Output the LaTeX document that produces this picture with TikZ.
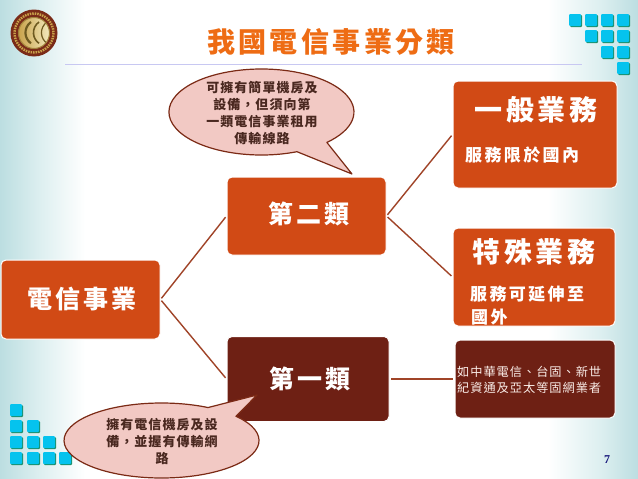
\documentclass[tikz,border=0pt]{standalone}
\usepackage{fontspec}
\setmainfont{Liberation Serif}
\newfontfamily\cjkT[LetterSpace=12]{Noto Sans CJK TC}
\newfontfamily\cjkL[LetterSpace=12]{Noto Sans CJK TC}
\newfontfamily\cjkM[LetterSpace=14]{Noto Sans CJK TC}
\newfontfamily\cjkS[LetterSpace=8]{Noto Sans CJK TC}
\definecolor{teal}{HTML}{BCDEE1}
\definecolor{tealmid}{HTML}{DDEFF0}
\definecolor{boxorange}{HTML}{D14A15}
\definecolor{boxdark}{HTML}{6E2014}
\definecolor{titleorange}{HTML}{EE6C14}
\definecolor{rulelilac}{HTML}{C8C8F2}
\definecolor{linkbrown}{HTML}{A04428}
\definecolor{calloutfill}{HTML}{F2C9C4}
\definecolor{calloutline}{HTML}{7B2A15}
\definecolor{callouttext}{HTML}{4A2820}
\definecolor{squarecyan}{HTML}{05C3EE}
\definecolor{squaregreen}{HTML}{1B8F6A}
\definecolor{pagenavy}{HTML}{14147A}
\definecolor{logored}{HTML}{7A2B18}
\definecolor{loggold}{HTML}{C9A24A}
\definecolor{logcream}{HTML}{F3EBC0}
\definecolor{logolive}{HTML}{6E5A20}
\tikzset{
  boxnode/.style={draw=white,line width=1pt,rounded corners=5pt,inner sep=0pt,fill=#1},
  linkline/.style={draw=linkbrown,line width=1.4pt,shorten <=1.5pt,shorten >=1.5pt},
  callout/.style={draw=calloutline,line width=1.2pt,fill=calloutfill,line join=round},
  calltext/.style={text=callouttext,inner sep=0pt,font=\cjkS\bfseries\fontsize{13}{13}\selectfont},
  boxtext/.style={text=white,inner sep=0pt},
  bigtext/.style={boxtext,font=\cjkL\bfseries\fontsize{25}{25}\selectfont},
  midtext/.style={boxtext,anchor=west,font=\cjkM\bfseries\fontsize{17}{17}\selectfont},
}
\newcommand{\sq}[2]{%
  \fill[squaregreen,rounded corners=1pt] (#1+1,#2+1) rectangle ++(12,12);
  \fill[squarecyan,rounded corners=1pt] (#1,#2) rectangle ++(12,12);}
\begin{document}
\begin{tikzpicture}[x=1pt,y=-1pt]
\useasboundingbox (0,0) rectangle (638,479);
% background
\fill[white] (0,0) rectangle (638,479);
\shade[left color=teal,right color=tealmid] (0,0) rectangle (40,479);
\shade[left color=tealmid,right color=white] (40,0) rectangle (85,479);
\shade[left color=white,right color=tealmid] (548,0) rectangle (600,479);
\shade[left color=tealmid,right color=teal] (600,0) rectangle (638,479);
% logo
\fill[logored] (34,33) circle (23.5);
\draw[loggold,line width=2.4pt,dash pattern=on 1.5pt off 1pt] (34,33) circle (19.5);
\fill[logcream] (34,33) circle (15.5);
\begin{scope}
  \clip (34,33) circle (15.5);
  \shade[left color=loggold,right color=logcream] (18,17) rectangle (50,49);
  \draw[logolive,line width=2.2pt] (31,22) arc[start angle=-125,end angle=-235,radius=13];
  \draw[logolive,line width=1.6pt] (39,22) arc[start angle=-125,end angle=-235,radius=13];
  \draw[logolive,line width=1.2pt] (47,22) arc[start angle=-125,end angle=-235,radius=13];
\end{scope}
\draw[loggold!80!black,line width=1pt] (34,33) circle (15.5);
% squares
\foreach \x/\y in {569/14,585/14,601/14,617/14,585/30,601/30,617/30,601/46,617/46,617/62,
  10/404,10/420,27/420,10/436,27/436,43/436,10/452,27/452,43/452,59/452}{\sq{\x}{\y}}
% title
\node[inner sep=0pt,text=titleorange,font=\cjkT\bfseries\fontsize{28}{28}\selectfont] (title) at (331,42) {我國電信事業分類};
\draw[rulelilac,line width=1.2pt] (65,64.5) -- (582,64.5);
% boxes
\node[boxnode=boxorange,minimum width=159pt,minimum height=79pt] (root) at (80.5,299.5) {};
\node[boxnode=boxorange,minimum width=159pt,minimum height=78pt] (second) at (306.5,216) {};
\node[boxnode=boxdark,minimum width=162pt,minimum height=85pt] (first) at (308,379) {};
\node[boxnode=boxorange,minimum width=164pt,minimum height=107pt] (general) at (535,134.5) {};
\node[boxnode=boxorange,minimum width=162pt,minimum height=98pt] (special) at (534,277) {};
\node[boxnode=boxdark,minimum width=160pt,minimum height=78pt] (fixed) at (535,379) {};
% connectors
\draw[linkline] (root.east) -- (second.west);
\draw[linkline] (root.east) -- (first.west);
\draw[linkline] (second.east) -- (general.west);
\draw[linkline] (second.east) -- (special.west);
\draw[linkline] (first.east) -- (fixed.west);
% box text
\node[bigtext] (rootT) at (82,299) {電信事業};
\node[bigtext] (secondT) at (309,214) {第二類};
\node[bigtext] (firstT) at (310,379) {第一類};
\node[boxtext,font=\cjkT\bfseries\fontsize{28}{28}\selectfont] (generalT) at (536,110) {一般業務};
\node[midtext] (generalS) at (465,155) {服務限於國內};
\node[boxtext,font=\cjkT\bfseries\fontsize{28}{28}\selectfont] (specialT) at (534,252) {特殊業務};
\node[midtext] (specialS) at (470,294) {服務可延伸至};
\node[midtext] (specialU) at (471,317) {國外};
\node[boxtext,anchor=west,text=white!90!boxorange,font=\cjkS\fontsize{12.2}{12.2}\selectfont] (fixedA) at (457,372) {如中華電信、台固、新世};
\node[boxtext,anchor=west,text=white!90!boxorange,font=\cjkS\fontsize{12.2}{12.2}\selectfont] (fixedB) at (457,388) {紀資通及亞太等固網業者};
% callouts
\draw[callout] (297,151.7) arc[start angle=67.4,end angle=405,x radius=92.5,y radius=43] -- (352,174) -- cycle;
\node[calltext] (upA) at (262,88) {可擁有簡單機房及};
\node[calltext] (upB) at (262,105) {設備，但須向第};
\node[calltext] (upC) at (262,122) {一類電信事業租用};
\node[calltext] (upD) at (262,139) {傳輸線路};
\draw[callout] (236,416.3) arc[start angle=-40.2,end angle=298.5,x radius=97.5,y radius=37.5] -- (257,395) -- cycle;
\node[calltext] (lowA) at (162,425) {擁有電信機房及設};
\node[calltext] (lowB) at (162,442) {備，並握有傳輸網};
\node[calltext] (lowC) at (162,459) {路};
% page number
\node[inner sep=0pt,text=pagenavy,font=\bfseries\fontsize{12}{12}\selectfont] (page) at (607,460) {7};
\end{tikzpicture}
\end{document}
